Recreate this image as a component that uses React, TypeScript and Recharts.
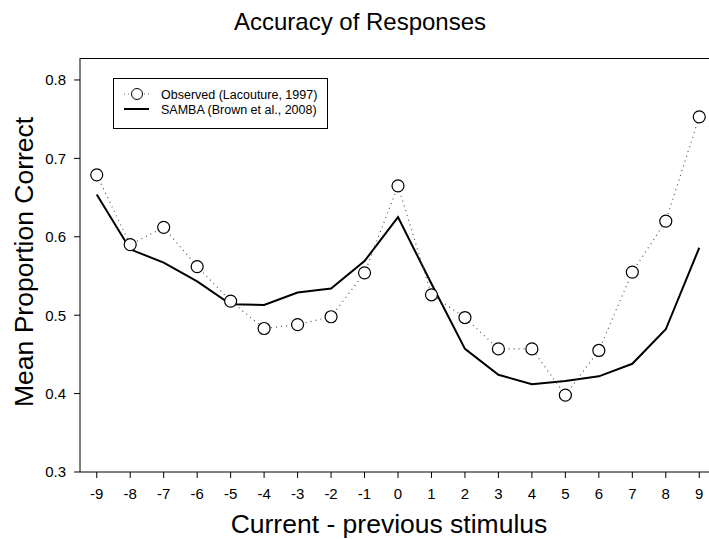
import { LineChart, Line, XAxis, YAxis } from "recharts";

const diffs = [-9, -8, -7, -6, -5, -4, -3, -2, -1, 0, 1, 2, 3, 4, 5, 6, 7, 8, 9];
const observed = [0.679, 0.59, 0.612, 0.562, 0.518, 0.483, 0.488, 0.498, 0.554, 0.665, 0.526, 0.497, 0.457, 0.457, 0.398, 0.455, 0.555, 0.62, 0.753];
const samba = [0.654, 0.584, 0.567, 0.543, 0.514, 0.513, 0.529, 0.534, 0.569, 0.625, 0.54, 0.457, 0.424, 0.412, 0.416, 0.422, 0.438, 0.482, 0.586];
const yTicks = [0.3, 0.4, 0.5, 0.6, 0.7, 0.8];
const yMax = 0.828;

const data = diffs.map((d, i) => ({ d, observed: observed[i], samba: samba[i] }));

const font = "Liberation Sans, Arial, sans-serif";

function OpenCircle(props: any) {
  const { cx, cy } = props;
  if (cx == null || cy == null) return null;
  return <circle cx={cx} cy={cy} r={6} fill="#fff" stroke="#000" strokeWidth={1.2} />;
}

function LegendBox() {
  return (
    <div
      style={{
        position: "absolute",
        left: 113,
        top: 78,
        width: 215,
        height: 51,
        border: "1px solid #000",
        background: "#fff",
        boxSizing: "border-box",
      }}
    >
      <svg width={213} height={49} style={{ display: "block" }}>
        <line x1={10} y1={15} x2={35} y2={15} stroke="#666" strokeDasharray="1 3" />
        <circle cx={23} cy={15} r={5.5} fill="#fff" stroke="#000" />
        <text x={47} y={19.5} fontSize={12.5} fontFamily={font}>Observed (Lacouture, 1997)</text>
        <line x1={10} y1={30} x2={35} y2={30} stroke="#000" strokeWidth={2} />
        <text x={47} y={34.5} fontSize={12.5} fontFamily={font}>SAMBA (Brown et al., 2008)</text>
      </svg>
    </div>
  );
}

export default function App() {
  return (
    <div
      style={{
        position: "fixed",
        left: 0,
        top: 0,
        width: 709,
        height: 539,
        overflow: "hidden",
        background: "#fff",
        fontFamily: font,
      }}
    >
      <div style={{ position: "absolute", top: 0, left: 0 }}>
        <LineChart width={720} height={539} data={data} margin={{ top: 58, right: 4, bottom: 0, left: 0 }}>
          <XAxis
            dataKey="d"
            type="number"
            domain={[-9.5, 9.5]}
            ticks={diffs}
            interval={0}
            height={67}
            tickSize={6}
            tickMargin={10}
            stroke="#000"
            tick={{ fill: "#000", fontSize: 15, fontFamily: font }}
            label={{ value: "Current - previous stimulus", position: "insideBottom", offset: 6, dx: -9, fill: "#000", fontSize: 26.5, fontFamily: font }}
          />
          <YAxis
            type="number"
            domain={[0.3, yMax]}
            ticks={yTicks}
            width={80}
            tickSize={6}
            tickMargin={8}
            stroke="#000"
            allowDataOverflow
            tick={{ fill: "#000", fontSize: 15, fontFamily: font }}
            label={{ value: "Mean Proportion Correct", angle: -90, position: "insideLeft", offset: 24, dy: 142, fill: "#000", fontSize: 26.5, fontFamily: font }}
          />
          <Line
            type="linear"
            dataKey="samba"
            stroke="#000"
            strokeWidth={2}
            dot={false}
            isAnimationActive={false}
          />
          <Line
            type="linear"
            dataKey="observed"
            stroke="#555"
            strokeWidth={1.2}
            strokeDasharray="1 4"
            dot={<OpenCircle />}
            isAnimationActive={false}
          />
        </LineChart>
      </div>
      {/* top edge of the plot frame */}
      <div style={{ position: "absolute", left: 80, top: 57.5, width: 640, height: 0, borderTop: "1px solid #000" }} />
      <div
        style={{
          position: "absolute",
          top: 8,
          left: 360,
          transform: "translateX(-50%)",
          whiteSpace: "nowrap",
          fontSize: 24,
        }}
      >
        Accuracy of Responses
      </div>
      <LegendBox />
    </div>
  );
}
